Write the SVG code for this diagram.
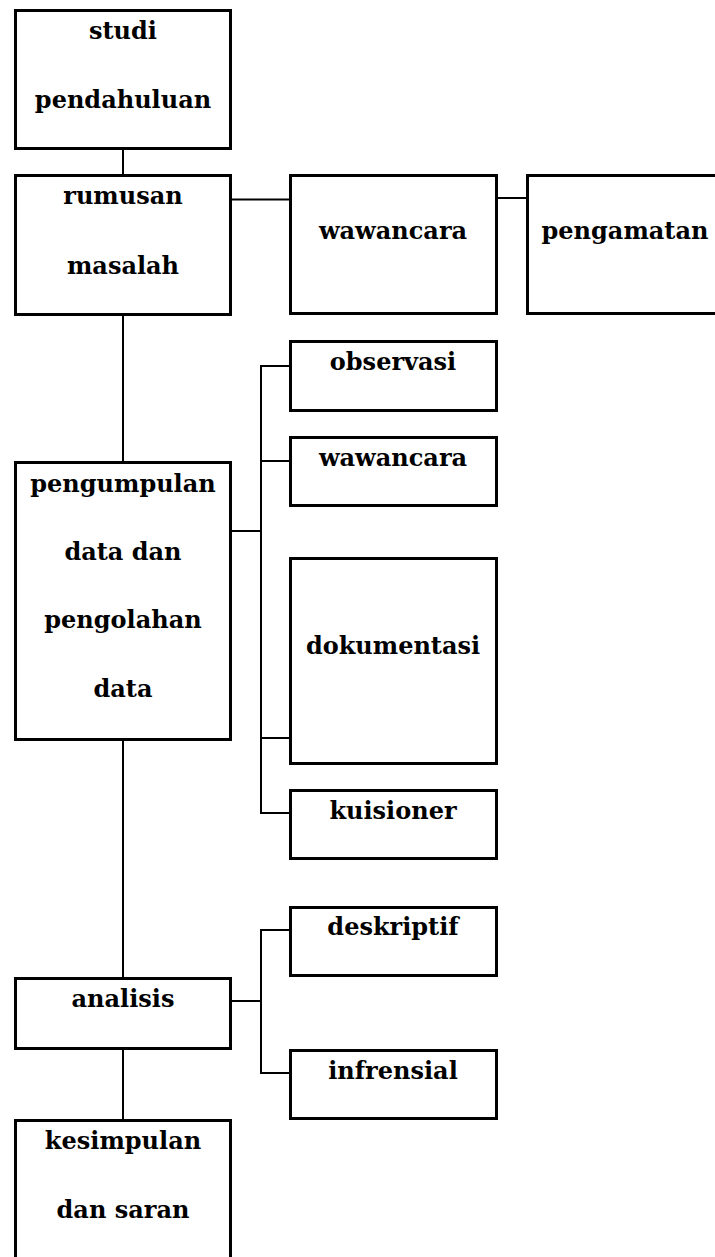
<svg xmlns="http://www.w3.org/2000/svg" width="715" height="1257" viewBox="0 0 715 1257">
<style>
.box{fill:#fff;stroke:#000;stroke-width:3}
.ln{stroke:#000;stroke-width:2;fill:none}
text{font-family:"DejaVu Serif","Liberation Serif",serif;font-weight:bold;font-size:24px;text-anchor:middle;fill:#000}
</style>
<rect width="715" height="1257" fill="#fff"/>
<g id="connectors">
<line class="ln" x1="123" y1="149" x2="123" y2="175"/>
<line class="ln" x1="231" y1="199.5" x2="290" y2="199.5"/>
<line class="ln" x1="497" y1="198" x2="527" y2="198"/>
<line class="ln" x1="123" y1="315" x2="123" y2="462"/>
<line class="ln" x1="231" y1="531" x2="261" y2="531"/>
<polyline class="ln" points="290,366 261,366 261,813 290,813"/>
<line class="ln" x1="261" y1="461" x2="290" y2="461"/>
<line class="ln" x1="261" y1="738" x2="290" y2="738"/>
<line class="ln" x1="123" y1="740" x2="123" y2="978"/>
<line class="ln" x1="231" y1="1001" x2="261" y2="1001"/>
<polyline class="ln" points="290,930 261,930 261,1073 290,1073"/>
<line class="ln" x1="123" y1="1049" x2="123" y2="1120"/>
</g>
<g id="studi"><rect class="box" x="15.5" y="10.5" width="215" height="138"/><text x="123" y="39">studi</text><text x="123" y="108">pendahuluan</text></g>
<g id="rumusan"><rect class="box" x="15.5" y="175.5" width="215" height="139"/><text x="123" y="204">rumusan</text><text x="123" y="274">masalah</text></g>
<g id="wawancara1"><rect class="box" x="290.5" y="175.5" width="206" height="138"/><text x="393" y="239">wawancara</text></g>
<g id="pengamatan"><rect class="box" x="527.5" y="175.5" width="200" height="138"/><text x="625" y="239">pengamatan</text></g>
<g id="pengumpulan"><rect class="box" x="15.5" y="462.5" width="215" height="277"/><text x="123" y="492">pengumpulan</text><text x="123" y="560">data dan</text><text x="123" y="628">pengolahan</text><text x="123" y="697">data</text></g>
<g id="observasi"><rect class="box" x="290.5" y="341.5" width="206" height="69"/><text x="393" y="370">observasi</text></g>
<g id="wawancara2"><rect class="box" x="290.5" y="437.5" width="206" height="68"/><text x="393" y="466">wawancara</text></g>
<g id="dokumentasi"><rect class="box" x="290.5" y="558.5" width="206" height="205"/><text x="393" y="654">dokumentasi</text></g>
<g id="kuisioner"><rect class="box" x="290.5" y="790.5" width="206" height="68"/><text x="393" y="819">kuisioner</text></g>
<g id="analisis"><rect class="box" x="15.5" y="978.5" width="215" height="70"/><text x="123" y="1007">analisis</text></g>
<g id="deskriptif"><rect class="box" x="290.5" y="907.5" width="206" height="68"/><text x="393" y="935">deskriptif</text></g>
<g id="infrensial"><rect class="box" x="290.5" y="1050.5" width="206" height="68"/><text x="393" y="1079">infrensial</text></g>
<g id="kesimpulan"><rect class="box" x="15.5" y="1120.5" width="215" height="160"/><text x="123" y="1149">kesimpulan</text><text x="123" y="1218">dan saran</text></g>
</svg>
